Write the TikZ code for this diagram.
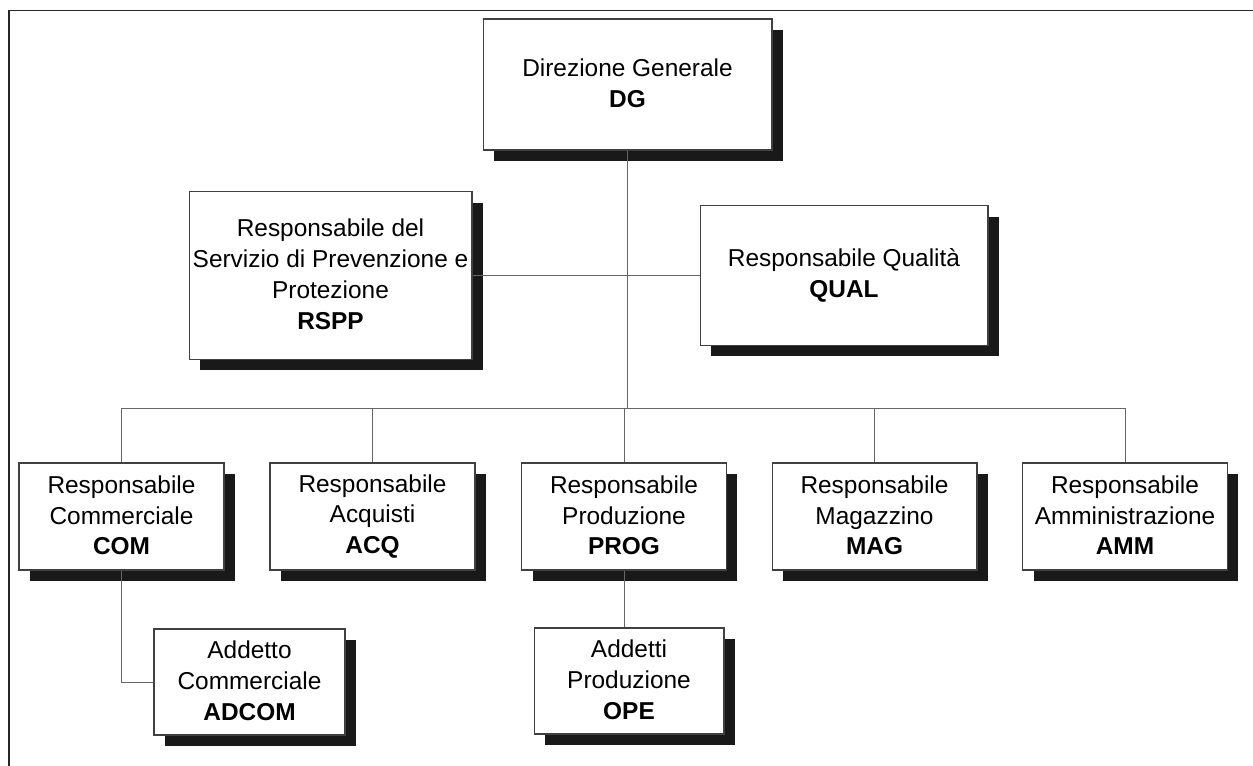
\documentclass[tikz,border=0pt]{standalone}
\usepackage{fontspec}
\setmainfont{Liberation Sans}
\usetikzlibrary{shadows}
\begin{document}
\begin{tikzpicture}[x=0.02cm, y=-0.02cm, line join=miter,
    font=\fontsize{13.9}{17.5}\selectfont,
    ufficio/.style={draw=black!75, line width=0.6pt, fill=white, align=center, inner sep=0pt,
      execute at begin node={\rule{0pt}{13.5pt}}, execute at end node={\rule[-1.5pt]{0pt}{1pt}},
      drop shadow={shadow xshift=0.22cm, shadow yshift=-0.22cm, fill=black!90, opacity=1}},
    riga/.style={ufficio, minimum width=4.1cm, minimum height=2.14cm},
    linea/.style={draw=black!60, line width=0.5pt}]
                \useasboundingbox (0,0) rectangle (1253,766);
                \draw[line width=0.9pt, black!85] (1253,10.5) -- (9,10.5) -- (9,766);
                \node[ufficio, minimum width=5.78cm, minimum height=2.62cm] (DG) at (627.5,84.5)
                    {Direzione Generale\\\textbf{DG}};
                \node[ufficio, minimum width=5.66cm, minimum height=3.36cm] (RSPP) at (330.5,275.5)
                    {Responsabile del\\Servizio di Prevenzione e\\Protezione\\\textbf{RSPP}};
                \node[ufficio, minimum width=5.76cm, minimum height=2.8cm] (QUAL) at (844,275.5)
                    {Responsabile Qualità\\\textbf{QUAL}};
                \node[riga] (COM) at (121.5,516.5) {Responsabile\\Commerciale\\\textbf{COM}};
                \node[riga] (ACQ) at (372.5,516.5) {Responsabile\\Acquisti\\\textbf{ACQ}};
                \node[riga] (PROG) at (624,516.5) {Responsabile\\Produzione\\\textbf{PROG}};
                \node[riga] (MAG) at (874.5,516.5) {Responsabile\\Magazzino\\\textbf{MAG}};
                \node[riga] (AMM) at (1125,516.5) {Responsabile\\Amministrazione\\\textbf{AMM}};
                \node[ufficio, minimum width=3.82cm, minimum height=2.12cm] (ADCOM) at (249.5,682)
                    {Addetto\\Commerciale\\\textbf{ADCOM}};
                \node[ufficio, minimum width=3.8cm, minimum height=2.12cm] (OPE) at (629,681)
                    {Addetti\\Produzione\\\textbf{OPE}};
                \coordinate (bus) at (627.5,408);
                \draw[linea] (DG.south) -- (bus);
                \draw[linea] (RSPP.east) -- (RSPP.east -| QUAL.west);
                \draw[linea] (COM.north) -- (COM.north |- bus) -- (AMM.north |- bus) -- (AMM.north);
                \foreach \ufficio in {ACQ,PROG,MAG}
                    \draw[linea] (\ufficio.north |- bus) -- (\ufficio.north);
                \draw[linea] (COM.south) |- (ADCOM.west);
                \draw[linea] (PROG.south) -- (PROG.south |- OPE.north);
            \end{tikzpicture}
\end{document}
